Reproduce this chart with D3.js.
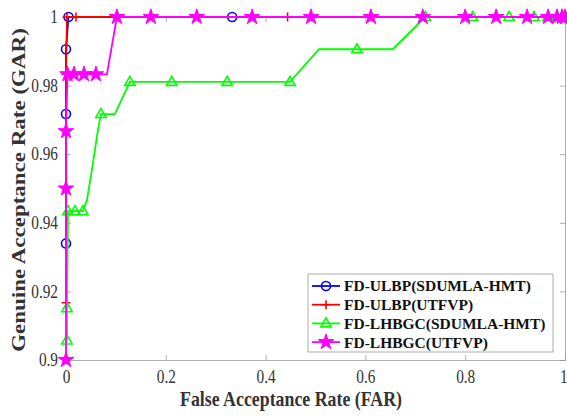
<!DOCTYPE html>
<html>
<head>
<meta charset="utf-8">
<script src="https://cdn.jsdelivr.net/npm/d3@7"></script>
<style>
  body { margin: 0; background: #fff; }
</style>
</head>
<body>
<svg id="roc" width="567" height="416"></svg>
<script>
// series data: [FAR, GAR]; line vertices and marker positions kept apart
// (the original curves have corners without markers)
const seriesNames = ["FD-ULBP(SDUMLA-HMT)", "FD-ULBP(UTFVP)", "FD-LHBGC(SDUMLA-HMT)", "FD-LHBGC(UTFVP)"];

const ulbpSdumlaLine = [[0, 0.9340], [0, 0.9717], [0, 0.9906], [0.005, 1], [0.333, 1], [1, 1]];
const ulbpSdumlaMarks = [[0, 0.9340], [0, 0.9717], [0, 0.9906], [0.005, 1], [0.333, 1], [1, 1]];

const ulbpUtfvpLine = [[0, 0.9167], [0, 0.9833], [0.002, 1], [0.020, 1], [0.444, 1], [1, 1]];
const ulbpUtfvpMarks = [[0, 0.9167], [0, 0.9833], [0.002, 1], [0.020, 1], [0.444, 1], [1, 1]];

const lhbgcSdumlaLine = [[0.002, 0.9057], [0.002, 0.9151], [0.004, 0.9434], [0.018, 0.9434], [0.034, 0.9434],
  [0.042, 0.9466], [0.052, 0.9554], [0.064, 0.9671], [0.070, 0.9717], [0.098, 0.9717], [0.128, 0.9811],
  [0.212, 0.9811], [0.323, 0.9811], [0.449, 0.9811], [0.507, 0.9906], [0.583, 0.9906], [0.655, 0.9906],
  [0.720, 1], [0.815, 1], [0.888, 1], [0.938, 1], [0.966, 1], [0.984, 1], [0.994, 1], [1, 1]];
const lhbgcSdumlaMarks = [[0.002, 0.9057], [0.002, 0.9151], [0.004, 0.9434], [0.018, 0.9434], [0.034, 0.9434],
  [0.070, 0.9717], [0.128, 0.9811], [0.212, 0.9811], [0.323, 0.9811], [0.449, 0.9811], [0.583, 0.9906],
  [0.720, 1], [0.815, 1], [0.888, 1], [0.938, 1], [0.966, 1], [0.984, 1], [0.994, 1], [1, 1]];

const lhbgcUtfvpLine = [[0, 0.9], [0, 0.95], [0, 0.9667], [0.003, 0.9833], [0.016, 0.9833], [0.036, 0.9833],
  [0.060, 0.9833], [0.082, 0.9833], [0.102, 1], [0.170, 1], [0.262, 1], [0.373, 1], [0.491, 1], [0.611, 1],
  [0.715, 1], [0.800, 1], [0.862, 1], [0.924, 1], [0.966, 1], [0.984, 1], [0.994, 1], [1, 1]];
const lhbgcUtfvpMarks = [[0, 0.9], [0, 0.95], [0, 0.9667], [0.003, 0.9833], [0.016, 0.9833], [0.036, 0.9833],
  [0.060, 0.9833], [0.102, 1], [0.170, 1], [0.262, 1], [0.373, 1], [0.491, 1], [0.611, 1],
  [0.715, 1], [0.800, 1], [0.862, 1], [0.924, 1], [0.966, 1], [0.984, 1], [0.994, 1], [1, 1]];

const xTicks = [0, 0.2, 0.4, 0.6, 0.8, 1];
const yTicks = [0.9, 0.92, 0.94, 0.96, 0.98, 1];
const xTitle = "False Acceptance Rate (FAR)";
const yTitle = "Genuine Acceptance Rate (GAR)";

const FONT = "'Liberation Serif', 'Times New Roman', Times, serif";
// the source figure is a bit squeezed sideways, so text is narrowed
const squeeze = 0.85;

const svg = d3.select("#roc"),
  margin = { left: 66, top: 17, right: 2, bottom: 56 },
  width = +svg.attr("width") - margin.left - margin.right,
  height = +svg.attr("height") - margin.top - margin.bottom;

const x = d3.scaleLinear().domain([0, 1]).range([0, width]);
const y = d3.scaleLinear().domain([0.9, 1]).range([height, 0]);

const g = svg.append("g").attr("transform", `translate(${margin.left},${margin.top})`);

// axes (ticks pointing inward like matlab)
const xAxis = g.append("g").attr("transform", `translate(0,${height})`)
  .call(d3.axisBottom(x).tickValues(xTicks).tickSize(-5).tickPadding(10).tickFormat(d3.format("")));
const yAxis = g.append("g")
  .call(d3.axisLeft(y).tickValues(yTicks).tickSize(-5).tickPadding(8).tickFormat(d3.format("")));
const xTop = g.append("g").call(d3.axisTop(x).tickValues(xTicks).tickSize(-5).tickFormat(""));
const yRight = g.append("g").attr("transform", `translate(${width},0)`)
  .call(d3.axisRight(y).tickValues(yTicks).tickSize(-5).tickFormat(""));

[xAxis, yAxis, xTop, yRight].forEach(a => {
  a.attr("font-family", FONT).attr("font-size", 18);
  a.selectAll("path, line").attr("stroke", "#999").attr("stroke-width", 0.8);
  a.selectAll("text").attr("fill", "#333");
});
xAxis.selectAll("text").attr("transform", `scale(${squeeze},1)`);
xAxis.selectAll(".tick").filter(d => d === 1).select("text").attr("dx", -2);
yAxis.selectAll("text").attr("x", 0).attr("transform", `translate(-8,0) scale(${squeeze},1)`);

const line = d3.line().x(d => x(d[0])).y(d => y(d[1]));

const series = [
  { name: seriesNames[0], color: "#0000ff", line: ulbpSdumlaLine, marks: ulbpSdumlaMarks, sym: "circle" },
  { name: seriesNames[1], color: "#ff0000", line: ulbpUtfvpLine, marks: ulbpUtfvpMarks, sym: "plus" },
  { name: seriesNames[2], color: "#00ff00", line: lhbgcSdumlaLine, marks: lhbgcSdumlaMarks, sym: "triangle" },
  { name: seriesNames[3], color: "#ff00ff", line: lhbgcUtfvpLine, marks: lhbgcUtfvpMarks, sym: "star" }
];

// draw a marker into a selection
function drawMarker(sel, s) {
  if (s.sym === "circle") {
    sel.append("circle").attr("r", 4.5).attr("fill", "none")
      .attr("stroke", s.color).attr("stroke-width", 1.6);
  } else if (s.sym === "plus") {
    sel.append("path").attr("d", "M-4.5,0H4.5M0,-4.5V4.5")
      .attr("stroke", s.color).attr("stroke-width", 1.6);
  } else if (s.sym === "triangle") {
    sel.append("path").attr("d", "M0,-5.5L5.2,3.5L-5.2,3.5Z").attr("fill", "none")
      .attr("stroke", s.color).attr("stroke-width", 1.6);
  } else {
    sel.append("path").attr("d", d3.symbol(d3.symbolStar, 75)())
      .attr("fill", s.color).attr("stroke", s.color).attr("stroke-width", 1);
  }
}

series.forEach(s => {
  g.append("path").datum(s.line)
    .attr("d", line).attr("fill", "none")
    .attr("stroke", s.color).attr("stroke-width", 1.8);
  g.append("g").selectAll("g").data(s.marks).enter().append("g")
    .attr("transform", d => `translate(${x(d[0])},${y(d[1])})`)
    .each(function () { drawMarker(d3.select(this), s); });
});

// axis titles
svg.append("text")
  .attr("transform", `translate(291,406) scale(${squeeze},1)`)
  .attr("text-anchor", "middle").attr("font-weight", "bold")
  .attr("font-family", FONT).attr("font-size", 21).attr("fill", "#333")
  .text(xTitle);
svg.append("text")
  .attr("transform", `translate(25,190) scale(${squeeze},1) rotate(-90)`)
  .attr("text-anchor", "middle").attr("font-weight", "bold")
  .attr("font-family", FONT).attr("font-size", 23).attr("fill", "#333")
  .text(yTitle);

// legend
const legend = svg.append("g").attr("transform", "translate(308,274)");
legend.append("rect").attr("width", 245).attr("height", 78)
  .attr("fill", "#fff").attr("stroke", "#999").attr("stroke-width", 0.8);

const entry = legend.selectAll("g.entry").data(series).enter().append("g")
  .attr("class", "entry")
  .attr("transform", (d, i) => `translate(0,${12 + i * 18.7})`);
entry.append("line").attr("x1", 4).attr("x2", 32)
  .attr("stroke", d => d.color).attr("stroke-width", 1.8);
entry.each(function (d) {
  const m = d3.select(this).append("g").attr("transform", "translate(18,0)");
  drawMarker(m, d);
});
entry.append("text").attr("x", 36).attr("dy", "0.35em")
  .attr("font-weight", "bold").attr("font-family", FONT).attr("font-size", 15.5).attr("fill", "#111")
  .text(d => d.name);
</script>
</body>
</html>
